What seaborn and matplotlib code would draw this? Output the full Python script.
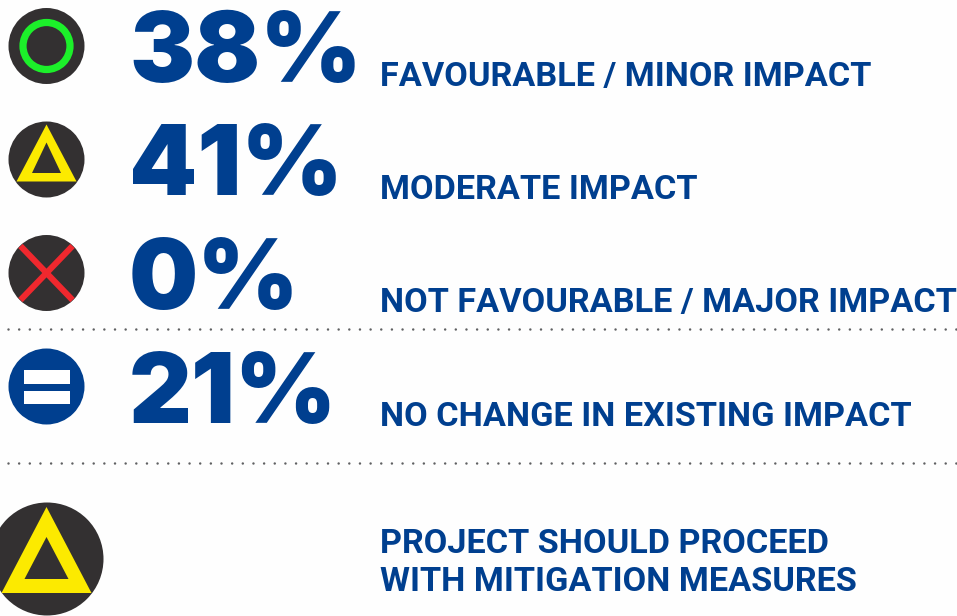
import pandas as pd
import numpy as np
import matplotlib
matplotlib.use('Agg')
import matplotlib.pyplot as plt
from matplotlib.patches import Circle, Polygon, Rectangle
import seaborn as sns

# Values
percents = [38, 41, 0, 21]
labels = ['FAVOURABLE / MINOR IMPACT', 'MODERATE IMPACT',
          'NOT FAVOURABLE / MAJOR IMPACT', 'NO CHANGE IN EXISTING IMPACT']
icons = ['circle', 'triangle', 'cross', 'equal']
verdict = ['PROJECT SHOULD PROCEED', 'WITH MITIGATION MEASURES']

BLUE = '#003f8f'
DARK = '#333031'
GREEN = '#1cf02a'
YELLOW = '#fcea00'
RED = '#f0282e'

W, H = 957, 616


def triangle(ax, cx, apex, base, half, in_apex, in_base, in_half):
    """Hollow yellow triangle on a disc."""
    ax.add_patch(Polygon([(cx, apex), (cx + half, base), (cx - half, base)], color=YELLOW, lw=0, zorder=3))
    ax.add_patch(Polygon([(cx, in_apex), (cx + in_half, in_base), (cx - in_half, in_base)], color=DARK, lw=0, zorder=4))


def draw_icon(ax, kind, cy):
    cx = 46.5
    disc = BLUE if kind == 'equal' else DARK
    ax.add_patch(Circle((cx, cy), 38, color=disc, lw=0, zorder=2))
    if kind == 'circle':
        ax.add_patch(Circle((cx, cy), 23.5, fill=False, ec=GREEN, lw=5.2, zorder=3))
    elif kind == 'triangle':
        triangle(ax, cx, cy - 35, cy + 22, 30, cy - 17, cy + 13.5, 14.5)
    elif kind == 'cross':
        ax.plot([cx - 26, cx + 26], [cy - 27, cy + 27], color=RED, lw=4.4, zorder=3, solid_capstyle='butt')
        ax.plot([cx - 26, cx + 26], [cy + 27, cy - 27], color=RED, lw=4.4, zorder=3, solid_capstyle='butt')
    else:
        ax.add_patch(Rectangle((cx - 23, cy - 16.5), 46, 13.5, color='white', lw=0, zorder=3))
        ax.add_patch(Rectangle((cx - 23, cy + 4), 46, 13.5, color='white', lw=0, zorder=3))


def main():
    sns.set_theme(style='white')
    plt.rcParams['font.family'] = ['Inter', 'DejaVu Sans']

    fig = plt.figure(figsize=(W / 100, H / 100), dpi=100, facecolor='#fefefe')
    ax = fig.add_axes([0, 0, 1, 1])
    ax.set_xlim(0, W)
    ax.set_ylim(H, 0)
    ax.axis('off')

    df = pd.DataFrame({'percent': percents, 'label': labels, 'icon': icons})
    df['row_y'] = 46 + np.arange(len(df)) * 113.5

    for _, row in df.iterrows():
        draw_icon(ax, row['icon'], row['row_y'])
        ax.text(129, row['row_y'] + 36, f"{row['percent']}%", fontsize=70, fontweight=900,
                color=BLUE, va='baseline', ha='left')
        ax.text(380, row['row_y'] + 39.5, row['label'], fontsize=24.7, fontweight='bold',
                color=BLUE, va='baseline', ha='left', family='Roboto')

    # dotted separators
    for y in [329, 463]:
        sns.lineplot(x=[8, W], y=[y, y], ax=ax, color='#5f6062', lw=1.8,
                     linestyle=(0, (0.01, 4.25)), dash_capstyle='round', legend=False)

    # overall verdict
    ax.add_patch(Circle((47, 559), 56.5, color=DARK, lw=0, zorder=2))
    triangle(ax, 46.5, 507, 593, 45, 537, 579, 22)
    for text, y in zip(verdict, [553, 591]):
        ax.text(380, y, text, fontsize=24.7, fontweight='bold', color=BLUE,
                va='baseline', ha='left', family='Roboto')

    ax.set_xlim(0, W)
    ax.set_ylim(H, 0)
    ax.set_xlabel('')
    ax.set_ylabel('')
    fig.savefig('out.png', dpi=100, facecolor=fig.get_facecolor())


if __name__ == "__main__":
    main()
